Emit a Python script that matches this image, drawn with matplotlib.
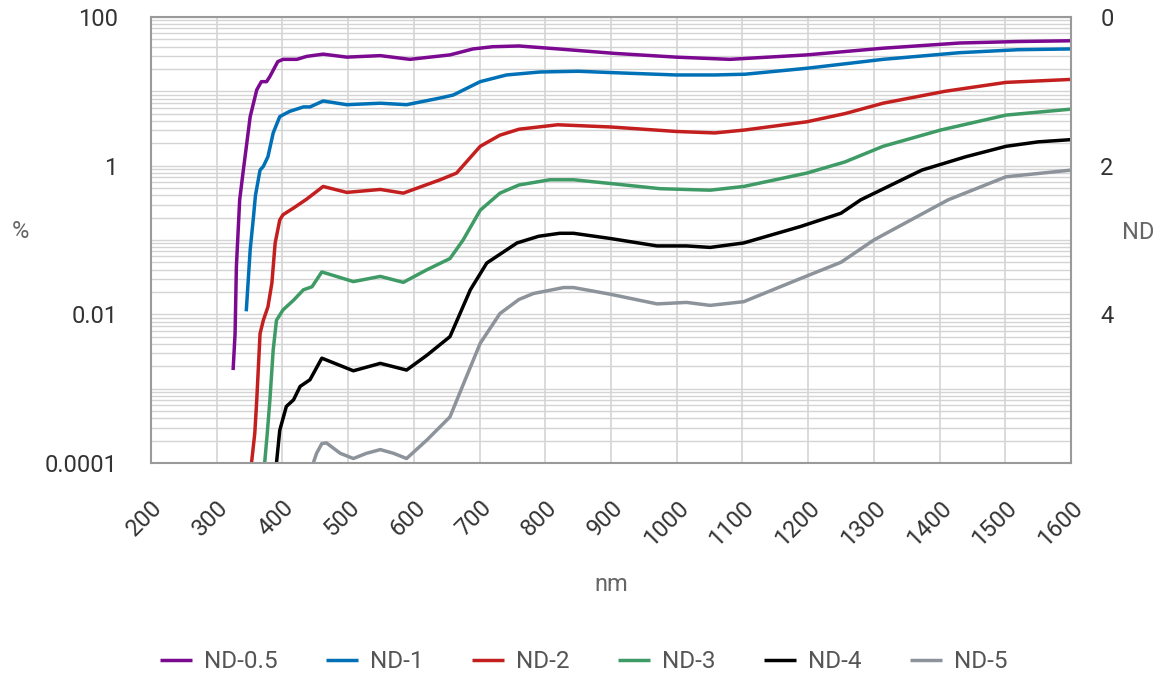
import numpy as np
import matplotlib
matplotlib.use("Agg")
import matplotlib.pyplot as plt
from matplotlib.ticker import LogLocator, NullFormatter, FixedLocator

plt.rcParams["font.family"] = ["Roboto", "DejaVu Sans"]

# optical density (transmission % = 100 * 10**-OD)
nd05_nm = [325, 328, 330, 335, 340, 351, 361, 368, 376, 381, 393, 401, 422, 437, 462, 498,
           549, 594, 655, 690, 720, 760, 820, 906, 999, 1081, 1198, 1314, 1431, 1520, 1600]
nd05_od = [4.75, 4.26, 3.36, 2.46, 2.10, 1.34, 0.98, 0.87, 0.87, 0.80, 0.60, 0.57, 0.57, 0.53, 0.50, 0.54,
           0.52, 0.57, 0.51, 0.43, 0.40, 0.39, 0.43, 0.49, 0.54, 0.57, 0.51, 0.42, 0.35, 0.33, 0.32]

nd1_nm = [345, 351, 356, 359, 366, 371, 378, 386, 396, 411, 432, 442, 462, 498, 549, 589, 640,
          660, 701, 741, 792, 850, 906, 999, 1058, 1104, 1198, 1314, 1431, 1520, 1600]
nd1_od = [3.96, 3.13, 2.69, 2.40, 2.06, 2.01, 1.88, 1.56, 1.34, 1.27, 1.21, 1.21, 1.13, 1.18, 1.16, 1.18, 1.09,
          1.05, 0.87, 0.78, 0.74, 0.73, 0.75, 0.78, 0.78, 0.77, 0.69, 0.57, 0.48, 0.44, 0.43]

nd2_nm = [353, 358, 361, 366, 371, 378, 384, 389, 396, 401, 417, 437, 462, 498, 549, 584, 640,
          665, 701, 731, 760, 819, 900, 999, 1058, 1104, 1198, 1256, 1314, 1408, 1501, 1600]
nd2_od = [6.0, 5.6, 5.15, 4.26, 4.08, 3.90, 3.58, 3.04, 2.73, 2.66, 2.57, 2.45, 2.28, 2.36, 2.32, 2.37, 2.19,
          2.10, 1.74, 1.59, 1.51, 1.45, 1.48, 1.54, 1.56, 1.52, 1.41, 1.30, 1.16, 1.00, 0.88, 0.84]

nd3_nm = [373, 377, 381, 386, 391, 401, 417, 432, 445, 460, 508, 549, 584, 620, 655, 675, 701,
          731, 760, 807, 843, 899, 975, 1051, 1102, 1198, 1256, 1314, 1402, 1501, 1600]
nd3_od = [6.0, 5.6, 5.15, 4.48, 4.08, 3.94, 3.81, 3.67, 3.63, 3.43, 3.56, 3.49, 3.57, 3.40, 3.25, 3.00, 2.60,
          2.37, 2.26, 2.19, 2.19, 2.24, 2.31, 2.33, 2.28, 2.10, 1.95, 1.74, 1.52, 1.32, 1.24]

nd4_nm = [391, 396, 406, 417, 427, 442, 460, 508, 549, 589, 620, 655, 686, 711, 757, 790, 822, 843,
          899, 970, 1015, 1051, 1102, 1188, 1250, 1280, 1373, 1440, 1501, 1550, 1600]
nd4_od = [6.0, 5.56, 5.24, 5.15, 4.97, 4.88, 4.59, 4.76, 4.66, 4.75, 4.55, 4.30, 3.67, 3.31, 3.04, 2.95, 2.91,
          2.91, 2.98, 3.08, 3.08, 3.10, 3.04, 2.82, 2.64, 2.46, 2.06, 1.88, 1.74, 1.68, 1.65]

nd5_nm = [447, 452, 460, 467, 488, 508, 528, 549, 569, 589, 620, 655, 680, 701, 731, 760, 782, 828,
          843, 899, 970, 1015, 1051, 1102, 1188, 1250, 1300, 1413, 1501, 1600]
nd5_od = [6.0, 5.87, 5.74, 5.73, 5.87, 5.94, 5.87, 5.82, 5.87, 5.94, 5.69, 5.38, 4.84, 4.39, 3.99, 3.80, 3.72,
          3.64, 3.64, 3.73, 3.86, 3.84, 3.88, 3.83, 3.52, 3.30, 3.00, 2.46, 2.15, 2.06]

labels = ["ND-0.5", "ND-1", "ND-2", "ND-3", "ND-4", "ND-5"]
colors = ["#7b0a91", "#0071b6", "#c41f1f", "#3f9b66", "#000000", "#8d939a"]
series = [(nd05_nm, nd05_od), (nd1_nm, nd1_od), (nd2_nm, nd2_od),
          (nd3_nm, nd3_od), (nd4_nm, nd4_od), (nd5_nm, nd5_od)]

x_ticks = list(range(200, 1700, 100))
y_ticks = [1e-4, 1e-2, 1, 100]
y_labels = ["0.0001", "0.01", "1", "100"]
nd_labels = ["4", "2", "0"]

fig = plt.figure(figsize=(11.63, 6.74), dpi=100)
ax = fig.add_axes([0.1298, 0.3131, 0.7911, 0.6617])

for (nm, od), lab, col in zip(series, labels, colors):
    pct = 100 * 10 ** (-np.array(od))
    ax.plot(nm, pct, color=col, lw=2.5, label=lab, solid_capstyle="butt",
            solid_joinstyle="round")

ax.set_yscale("log")
ax.set_ylim(1e-4, 100)
ax.set_xlim(200, 1600)
ax.set_xticks(x_ticks)
ax.set_xticklabels([str(v) for v in x_ticks], rotation=45, ha="right",
                   rotation_mode="anchor")
ax.yaxis.set_major_locator(FixedLocator(y_ticks))
ax.set_yticklabels(y_labels)
ax.yaxis.set_minor_locator(LogLocator(base=10, subs=np.arange(1, 10), numticks=100))
ax.yaxis.set_minor_formatter(NullFormatter())

ax.grid(True, which="both", axis="y", color="#d4d4d4", lw=1.0)
ax.grid(True, which="major", axis="x", color="#d4d4d4", lw=1.2)
ax.set_axisbelow(True)
ax.tick_params(which="both", length=0, colors="#333333", labelsize=17)
ax.tick_params(axis="y", pad=24)
ax.tick_params(axis="x", pad=24)
for sp in ax.spines.values():
    sp.set_color("#9a9a9a")
    sp.set_linewidth(1.5)

ax2 = ax.twinx()
ax2.set_yscale("log")
ax2.set_ylim(1e-4, 100)
ax2.yaxis.set_major_locator(FixedLocator([1e-2, 1, 100]))
ax2.set_yticklabels(nd_labels)
ax2.yaxis.set_minor_formatter(NullFormatter())
ax2.tick_params(which="both", length=0, colors="#333333", labelsize=17, pad=21)
for sp in ax2.spines.values():
    sp.set_visible(False)

ax.set_xlabel("nm", color="#666666", fontsize=17, labelpad=16)
fig.text(0.0172, 0.657, "%", color="#666666", fontsize=17, ha="center", va="center")
fig.text(0.9785, 0.655, "ND", color="#666666", fontsize=17, ha="center", va="center")

fig.legend(loc="center", bbox_to_anchor=(0.502, 0.018), ncol=6, frameon=False,
           fontsize=17.5, handlelength=1.3, handletextpad=0.5, columnspacing=2.0,
           labelcolor="#555555")

fig.savefig("out.png", dpi=100)
